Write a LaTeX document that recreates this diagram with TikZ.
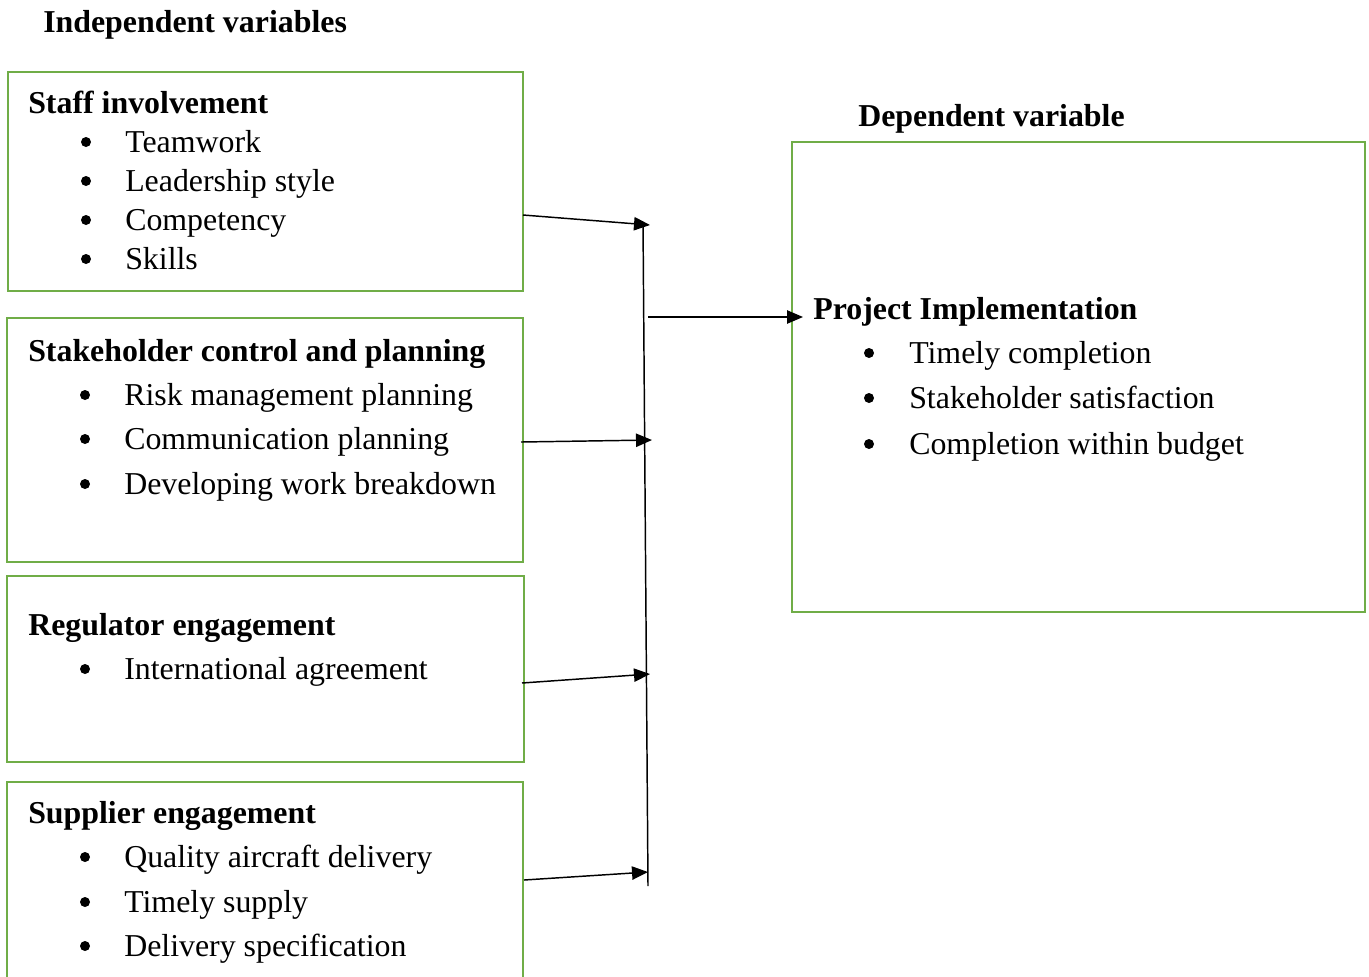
\documentclass[tikz,border=0pt]{standalone}
\usepackage{fontspec}
\setmainfont{Liberation Serif}
\usetikzlibrary{arrows.meta,fit}
\definecolor{boxgreen}{HTML}{70AD47}
\begin{document}
\begin{tikzpicture}[x=0.75pt,y=-0.75pt,
  box/.style={draw=boxgreen,line width=1.7pt,inner sep=0pt},
  ttl/.style={anchor=west,inner sep=0pt,yshift=-5.8pt,text height=0.7em,text depth=0.22em,font=\fontsize{23.9}{28}\selectfont\bfseries},
  itm/.style={anchor=west,inner sep=0pt,yshift=-5.8pt,text height=0.7em,text depth=0.22em,font=\fontsize{23.9}{28}\selectfont},
  bul/.style={circle,fill=black,inner sep=0pt,minimum size=7.5pt},
  conn/.style={line width=1.1pt,-{Triangle[length=12pt,width=10pt]}},
  bus/.style={line width=1.1pt}]
\useasboundingbox (0,0) rectangle (1369,976);
\clip (0,0) rectangle (1369,976);

% headings
\node[ttl] (hind) at (43,22) {Independent variables};
\node[ttl] (hdep) at (858,116) {Dependent variable};

% boxes
\node[box,fit={(8,72)(523,291)}] (b1) {};
\node[box,fit={(7,318)(523,562)}] (b2) {};
\node[box,fit={(7,576)(524,762)}] (b3) {};
\node[box,fit={(7,782)(523,1010)}] (b4) {};
\node[box,fit={(792,142)(1365,612)}] (bd) {};

% box 1
\node[ttl] (t1) at (28,103) {Staff involvement};
\foreach \y/\t [count=\i] in {142/Teamwork,181/Leadership style,220/Competency,259/Skills}{
  \node[bul] (b1p\i) at (86,\y) {};
  \node[itm] (b1t\i) at (125,\y) {\t};
}
% box 2
\node[ttl] (t2) at (28,351) {Stakeholder control and planning};
\foreach \y/\t [count=\i] in {395/Risk management planning,439/Communication planning,484/Developing work breakdown}{
  \node[bul] (b2p\i) at (85,\y) {};
  \node[itm] (b2t\i) at (124,\y) {\t};
}
% box 3
\node[ttl] (t3) at (28,625) {Regulator engagement};
\node[bul] (b3p1) at (85,669) {};
\node[itm] (b3t1) at (124,669) {International agreement};
% box 4
\node[ttl] (t4) at (28,813) {Supplier engagement};
\foreach \y/\t [count=\i] in {857/Quality aircraft delivery,902/Timely supply,946/Delivery specification}{
  \node[bul] (b4p\i) at (85,\y) {};
  \node[itm] (b4t\i) at (124,\y) {\t};
}
% dependent box
\node[ttl] (td) at (813,309) {Project Implementation};
\foreach \y/\t [count=\i] in {353/Timely completion,398/Stakeholder satisfaction,444/Completion within budget}{
  \node[bul] (bdp\i) at (869,\y) {};
  \node[itm] (bdt\i) at (909,\y) {\t};
}

% connector points
\coordinate (bt) at (643,222);
\coordinate (bb) at (648,886);
\coordinate (s1) at (523,215);
\coordinate (e1) at (650,225);
\coordinate (s2) at (521,442);
\coordinate (e2) at (652,440);
\coordinate (s3) at (522,683);
\coordinate (e3) at (650,674);
\coordinate (s4) at (524,880);
\coordinate (e4) at (648,872);
\coordinate (s5) at (648,317);
\coordinate (e5) at (803,317);

\draw[bus] (bt) -- (bb);
\draw[conn] (s1) -- (e1);
\draw[conn] (s2) -- (e2);
\draw[conn] (s3) -- (e3);
\draw[conn] (s4) -- (e4);
\draw[conn] (s5) -- (e5);
\end{tikzpicture}
\end{document}
